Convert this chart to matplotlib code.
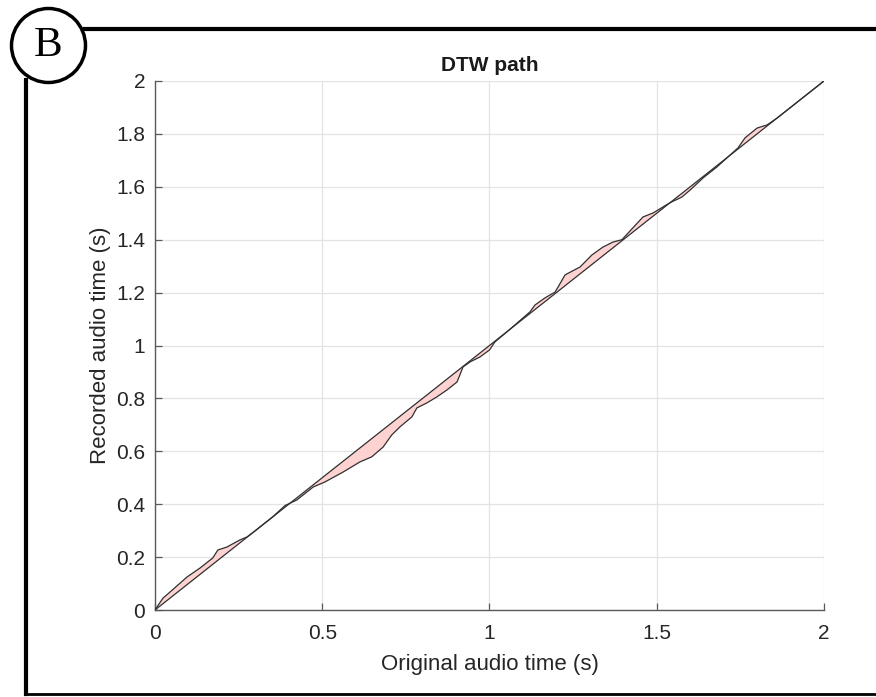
import matplotlib.pyplot as plt
from matplotlib.lines import Line2D
from matplotlib.patches import Ellipse
import numpy as np

plt.rcParams['font.family'] = ['Liberation Sans', 'DejaVu Sans']

# DTW path (original time, recorded time)
orig_t = [0.0, 0.024, 0.045, 0.096, 0.135, 0.173, 0.188, 0.215, 0.254, 0.275,
          0.30, 0.35, 0.389, 0.424, 0.473, 0.508, 0.563, 0.613, 0.648, 0.682,
          0.708, 0.732, 0.768, 0.783, 0.813, 0.843, 0.873, 0.903, 0.921, 0.942,
          0.972, 1.0, 1.016, 1.06, 1.121, 1.136, 1.166, 1.196, 1.205, 1.226,
          1.271, 1.306, 1.339, 1.369, 1.396, 1.459, 1.489, 1.54, 1.575, 1.6,
          1.64, 1.68, 1.743, 1.764, 1.8, 1.83, 1.86, 2.0]
rec_t = [0.0, 0.045, 0.068, 0.125, 0.159, 0.197, 0.227, 0.238, 0.265, 0.276,
         0.30, 0.35, 0.395, 0.416, 0.465, 0.484, 0.522, 0.56, 0.579, 0.616,
         0.662, 0.692, 0.73, 0.764, 0.783, 0.806, 0.832, 0.862, 0.919, 0.938,
         0.957, 0.983, 1.013, 1.06, 1.127, 1.153, 1.18, 1.202, 1.221, 1.267,
         1.297, 1.342, 1.372, 1.391, 1.40, 1.486, 1.501, 1.54, 1.561, 1.588,
         1.635, 1.675, 1.747, 1.785, 1.822, 1.834, 1.86, 2.0]

xticks = [0, 0.5, 1, 1.5, 2]
xtick_labels = ['0', '0.5', '1', '1.5', '2']
yticks = [0, 0.2, 0.4, 0.6, 0.8, 1, 1.2, 1.4, 1.6, 1.8, 2]
ytick_labels = ['0', '0.2', '0.4', '0.6', '0.8', '1', '1.2', '1.4', '1.6', '1.8', '2']

x = np.array(orig_t)
y = np.array(rec_t)

fig = plt.figure(figsize=(8.76, 6.97), dpi=100)
ax = fig.add_axes([0.1769, 0.1248, 0.7637, 0.759])

# area between path and the diagonal
ax.fill_between(x, y, x, facecolor='#ffd2d2', edgecolor='none', zorder=2)
ax.plot(x, y, color='#303030', lw=0.9, zorder=3)
ax.plot([0, 2], [0, 2], color='#303030', lw=0.9, zorder=3)

ax.set_xlim(0, 2)
ax.set_ylim(0, 2)
ax.set_xticks(xticks)
ax.set_xticklabels(xtick_labels)
ax.set_yticks(yticks)
ax.set_yticklabels(ytick_labels)
ax.grid(True, color='#e3e3e3', lw=0.9, zorder=0)
ax.set_axisbelow(True)
for s in ['top', 'right']:
    ax.spines[s].set_visible(False)
for s in ['left', 'bottom']:
    ax.spines[s].set_color('#5a5a5a')
    ax.spines[s].set_linewidth(1.0)
ax.tick_params(direction='in', length=5, width=0.9, color='#5a5a5a',
               labelsize=15, labelcolor='#262626')
ax.tick_params(axis='x', pad=10)
ax.tick_params(axis='y', pad=7)

ax.set_xlabel('Original audio time (s)', fontsize=16, color='#262626', labelpad=8)
ax.set_ylabel('Recorded audio time (s)', fontsize=16, color='#262626', labelpad=3.5)
ax.set_title('DTW path', fontsize=15, fontweight='bold', color='#1a1a1a', pad=7)

# outer frame with the panel letter
W, H = 876.0, 697.0
fig.add_artist(Line2D([85 / W, 1.0], [1 - 29 / H, 1 - 29 / H], color='black', lw=3))
fig.add_artist(Line2D([26 / W, 26 / W], [1 - 80 / H, 0.004], color='black', lw=3))
fig.add_artist(Line2D([26 / W, 1.0], [0.004, 0.004], color='black', lw=2))
fig.add_artist(Ellipse((48.5 / W, 1 - 45.5 / H), 74 / W, 74 / H, facecolor='white',
                       edgecolor='black', lw=2.5, transform=fig.transFigure))
fig.text(48.5 / W, 1 - 45.5 / H, 'B', fontsize=31, family='Liberation Serif',
         ha='center', va='center')

fig.savefig('out.png', dpi=100)
